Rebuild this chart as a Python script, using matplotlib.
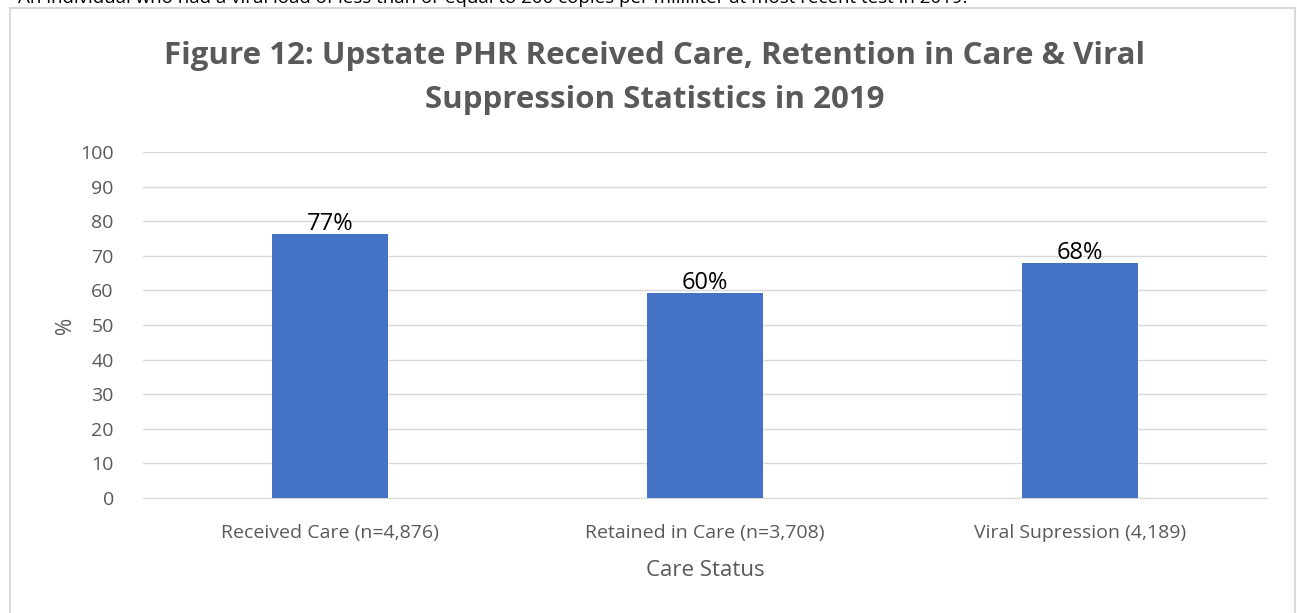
import matplotlib.pyplot as plt
from matplotlib.patches import Rectangle

# Данные
categories = ['Received Care (n=4,876)', 'Retained in Care (n=3,708)', 'Viral Supression (4,189)']
values = [76.2, 59.2, 68.0]
value_labels = ['77%', '60%', '68%']
yticks = list(range(0, 101, 10))

W, H = 1297, 613
fig = plt.figure(figsize=(W / 100, H / 100), dpi=100)
plt.rcParams['font.family'] = ['Open Sans', 'DejaVu Sans']

# Рамка диаграммы
fig.patches.append(Rectangle((10 / W, -0.1), 1285 / W, 1.1 - 8 / H, transform=fig.transFigure,
                             fill=False, edgecolor='#d9d9d9', linewidth=1.5))

# Обрезанная строка сверху
fig.text(18 / W, 1 + 2 / H, 'An individual who had a viral load of less than or equal to 200 copies per milliliter at most recent test in 2019.',
         ha='left', va='center', fontsize=13.5, color='black')

ax = fig.add_axes([143 / W, 1 - 498 / H, (1267 - 143) / W, (498 - 152) / H])
x = range(len(categories))
bars = ax.bar(x, values, width=0.31, color='#4472c4', zorder=3)
for b, lab in zip(bars, value_labels):
    ax.text(b.get_x() + b.get_width() / 2, b.get_height() - 0.6, lab,
            ha='center', va='bottom', fontsize=17, color='black')

ax.set_xlim(-0.5, 2.5)
ax.set_ylim(0, 100)
ax.set_yticks(yticks)
ax.set_xticks(list(x))
ax.set_xticklabels(categories)
ax.grid(axis='y', color='#d9d9d9', linewidth=1, zorder=0)
for s in ['top', 'right', 'left']:
    ax.spines[s].set_visible(False)
ax.spines['bottom'].set_color('#d9d9d9')
ax.tick_params(axis='both', length=0, colors='#595959', labelsize=14)
ax.tick_params(axis='x', pad=19)
ax.tick_params(axis='y', pad=21)

ax.set_xlabel('Care Status', fontsize=16, color='#595959', labelpad=13)
ax.set_ylabel('%', fontsize=15, color='#595959', labelpad=3)

fig.text(655 / W, 1 - 78 / H, 'Figure 12: Upstate PHR Received Care, Retention in Care & Viral\nSuppression Statistics in 2019',
         ha='center', va='center', fontsize=22.5, fontweight='bold', color='#595959', linespacing=1.6)

fig.savefig('out.png', dpi=100)
